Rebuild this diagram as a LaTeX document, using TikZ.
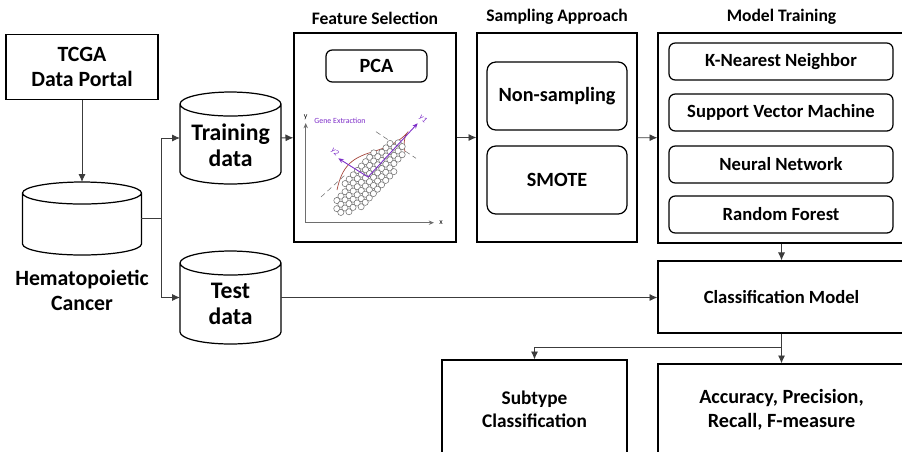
\documentclass[tikz,border=0pt]{standalone}
\usepackage{fontspec}
\setmainfont{Carlito}
\usetikzlibrary{arrows.meta,positioning}

\definecolor{linegray}{RGB}{60,60,60}
\definecolor{pcviolet}{RGB}{125,45,200}
\definecolor{curvered}{RGB}{165,70,60}
\definecolor{dotgray}{RGB}{110,110,110}

\newcommand{\bigbold}{\bfseries\fontsize{12.4}{14.2}\selectfont}
\newcommand{\dbbold}{\bfseries\fontsize{13.5}{14.8}\selectfont}
\newcommand{\midbold}{\bfseries\fontsize{11.5}{13.7}\selectfont}
\newcommand{\smallbold}{\bfseries\fontsize{10.6}{12.5}\selectfont}

% drum outline round a db node: #1 node, #2 half width, #3 end radius
\newcommand{\drum}[3]{%
  \draw[line width=0.7pt] ([yshift=-#3]#1.north west) -- ([yshift=#3]#1.south west)
    arc[start angle=180, end angle=360, x radius=#2, y radius=#3]
    -- ([yshift=-#3]#1.north east)
    arc[start angle=0, end angle=360, x radius=#2, y radius=#3];}

\tikzset{
  box/.style={draw, rectangle, line width=0.7pt, align=center, font=\midbold},
  rbox/.style={box, rounded corners=3.5pt},
  db/.style={rectangle, outer sep=0pt, inner sep=0pt},
  stage/.style={font=\bfseries\fontsize{10}{12}\selectfont},
  link/.style={draw=linegray, line width=0.5pt},
  conn/.style={link, -{Latex[length=4.5pt,width=4pt]}},
  dot/.style={draw=dotgray, fill=white, line width=0.3pt},
}

\begin{document}
\begin{tikzpicture}[x=0.02cm, y=-0.02cm]
  \path[use as bounding box, clip] (0,0) rectangle (902,451);

  % data source and split
  \node[box, font=\bigbold, minimum width=3.04cm, minimum height=1.3cm] (tcga) at (82,67) {TCGA\\Data Portal};
  \node[db, minimum width=2.38cm, minimum height=1.46cm] (hema) at (82,218.5) {};
  \drum{hema}{1.19cm}{0.22cm}
  \node[align=center, font=\bigbold] (hemalbl) at (82,290) {Hematopoietic\\Cancer};
  \node[db, minimum width=2.02cm, minimum height=1.84cm,
    label={[font=\dbbold, align=center, yshift=-0.14cm]center:Training\\data}] (train) at (230.5,138) {};
  \drum{train}{1.01cm}{0.24cm}
  \node[db, minimum width=2.02cm, minimum height=1.86cm,
    label={[font=\dbbold, align=center, yshift=-0.13cm]center:Test\\data}] (test) at (230.5,297.5) {};
  \drum{test}{1.01cm}{0.24cm}
  \coordinate (split) at (161,218.5);

  % feature selection
  \node[box, minimum width=3.24cm, minimum height=4.18cm] (feat) at (375,137.5) {};
  \node[stage, above=1pt of feat] (feattitle) {Feature Selection};
  \node[rbox, minimum width=2.02cm, minimum height=0.64cm] (pca) at (376.5,66) {PCA};

  % PCA sketch
  \draw[dotgray, line width=0.4pt, -{Stealth[length=3pt,width=2.5pt]}] (305.7,222.7) -- (305.7,123);
  \draw[dotgray, line width=0.4pt, -{Stealth[length=3pt,width=2.5pt]}] (305.7,222.7) -- (434,222.7);
  \node[font=\fontsize{4.5}{5}\selectfont, inner sep=0pt] (ylbl) at (305.7,117) {y};
  \node[font=\fontsize{4.5}{5}\selectfont, inner sep=0pt] (xlbl) at (441,222.7) {x};
  \node[font=\fontsize{4.5}{5}\selectfont, text=pcviolet, inner sep=0pt] (genelbl) at (340,121) {Gene Extraction};
  \draw[dotgray, densely dashed, line width=0.3pt] (321,197) -- (345,175);
  \draw[dotgray, densely dashed, line width=0.3pt] (376,131.7) -- (416,158.3);
  \draw[curvered, line width=0.4pt] (337,190) .. controls (342,166) and (352,158) .. (372,152)
    .. controls (392,146) and (402,139) .. (407,133) .. controls (403,140) and (404,146) .. (405,152);
  \begin{scope}[shift={(369,178.5)}, rotate=47]
    \foreach \v in {-14,-8.5,...,15}{
      \foreach \u in {-44,-38,...,46}{
        \pgfmathsetmacro\inside{(\u/48)^2+(\v/16.5)^2<1}
        \ifdim\inside pt>0.5pt \draw[dot] (\u,\v) circle[radius=0.062cm]; \fi
      }
    }
  \end{scope}
  \draw[pcviolet, line width=0.5pt, -{Stealth[length=3pt,width=2.5pt]}] (368,177) -- (417.7,123.3);
  \draw[pcviolet, line width=0.5pt, -{Stealth[length=3pt,width=2.5pt]}] (368,177) -- (338.3,158.3);
  \node[font=\fontsize{4.5}{5}\selectfont, text=pcviolet, inner sep=0pt, rotate=-45] (pconelbl) at (423,119) {y1};
  \node[font=\fontsize{4.5}{5}\selectfont, text=pcviolet, inner sep=0pt, rotate=-45] (pctwolbl) at (335,152) {y2};

  % sampling approach
  \node[box, minimum width=3.2cm, minimum height=4.18cm] (samp) at (557,137.5) {};
  \node[stage, above=1pt of samp] (samptitle) {Sampling Approach};
  \node[rbox, rounded corners=5pt, minimum width=2.8cm, minimum height=1.36cm] (nonsamp) at (557,96) {Non-sampling};
  \node[rbox, rounded corners=5pt, minimum width=2.8cm, minimum height=1.36cm] (smote) at (557,180) {SMOTE};

  % model training
  \node[box, minimum width=4.94cm, minimum height=4.2cm] (model) at (781.5,138) {};
  \node[stage, above=1pt of model] (modeltitle) {Model Training};
  \node[rbox, font=\smallbold, minimum width=4.48cm, minimum height=0.74cm] (knn) at (781,61.5) {K-Nearest Neighbor};
  \node[rbox, font=\smallbold, minimum width=4.48cm, minimum height=0.74cm] (svm) at (781,112.5) {Support Vector Machine};
  \node[rbox, font=\smallbold, minimum width=4.48cm, minimum height=0.74cm] (nn) at (781,164.5) {Neural Network};
  \node[rbox, font=\smallbold, minimum width=4.48cm, minimum height=0.74cm] (rf) at (781,214.5) {Random Forest};

  % evaluation
  \node[box, font=\smallbold, minimum width=4.94cm, minimum height=1.44cm] (clsmodel) at (781.5,297) {Classification Model};
  \node[box, font=\bfseries\fontsize{11}{13}\selectfont, minimum width=3.7cm, minimum height=1.96cm] (subtype) at (534.5,409) {Subtype\\Classification};
  \node[box, minimum width=4.94cm, minimum height=1.84cm] (acc) at (781.5,410) {Accuracy, Precision,\\Recall, F-measure};
  \coordinate (fork) at (781.5,347);

  \draw[conn] (tcga) -- (hema); % portal -> cancer data
  \draw[link] (hema) -- (split);
  \draw[conn] (split) |- (train);
  \draw[conn] (split) |- (test);
  \draw[conn] (train) -- (feat);
  \draw[conn] (feat) -- (samp);
  \draw[conn] (samp) -- (model);
  \draw[conn] (model) -- (clsmodel);
  \draw[conn] (test.east) -- (test.east -| clsmodel.west); % test set -> model
  \draw[link] (clsmodel) -- (fork);
  \draw[conn] (fork) -| (subtype);
  \draw[conn] (fork) -- (acc);

\end{tikzpicture}
\end{document}
